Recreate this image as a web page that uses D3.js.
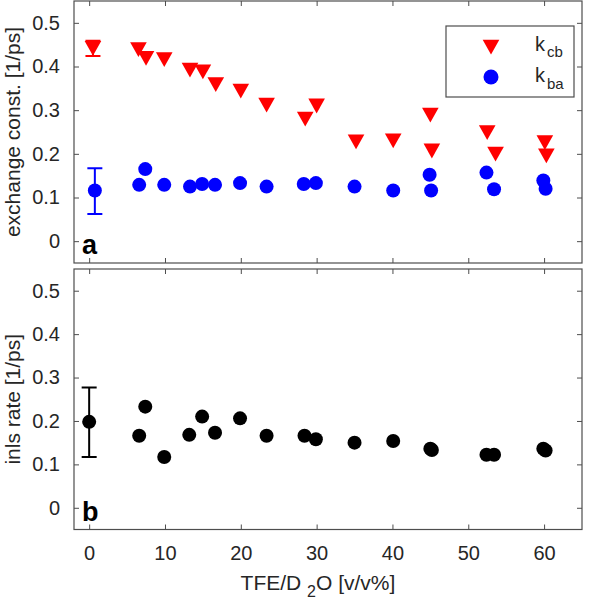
<!DOCTYPE html>
<html><head><meta charset="utf-8">
<script src="https://cdn.jsdelivr.net/npm/d3@7"></script>
<style>
html,body{margin:0;padding:0;background:#fff;}
text{font-family:"Liberation Sans",Arial,sans-serif;}
</style></head>
<body><svg id="chart" width="600" height="602"></svg>
<script>
// ---- data ----
const xTicks = [0,10,20,30,40,50,60];
const yTicks = [0,0.1,0.2,0.3,0.4,0.5];

const kcbX = [0.5,6.5,7.5,9.9,13.3,15,16.7,20,23.4,28.5,30,35.2,40.1,45,45.2,52.5,53.6,60.1,60.3];
const kcbY = [0.442,0.439,0.419,0.416,0.392,0.388,0.359,0.344,0.312,0.280,0.310,0.228,0.230,0.289,0.207,0.249,0.200,0.226,0.196];
const kcbErr = [0.424,0.459]; // error bar on the first point

const kbaX = [0.75,6.6,7.4,9.9,13.3,14.9,16.6,19.9,23.4,28.3,29.9,35,40.1,44.9,45.1,52.4,53.4,59.9,60.2];
const kbaY = [0.116,0.129,0.165,0.129,0.125,0.131,0.129,0.133,0.125,0.131,0.133,0.125,0.116,0.152,0.116,0.157,0.119,0.139,0.120];
const kbaErr = [0.062,0.167];

const inlsX = [0,6.6,7.4,9.9,13.2,14.9,16.6,19.9,23.4,28.4,29.9,35,40.1,45,45.2,52.4,53.4,59.9,60.2];
const inlsY = [0.198,0.166,0.233,0.117,0.168,0.210,0.173,0.206,0.166,0.166,0.158,0.150,0.154,0.136,0.133,0.122,0.122,0.136,0.132];
const inlsErr = [0.117,0.277];

// ---- layout ----
const svg = d3.select("#chart");
const axisColor = "#4d4d4d", textColor = "#262626";
const x = d3.scaleLinear().domain([-2,65]).range([74,582]);
const panels = [
  {y: d3.scaleLinear().domain([-0.05,0.55]).range([263,1]), label:"exchange const. [1/ps]", tag:"a"},
  {y: d3.scaleLinear().domain([-0.05,0.55]).range([529.5,269]), label:"inls rate [1/ps]", tag:"b"}
];

const triPath = "M-8.3,-7.2L8.3,-7.2L0,7.6Z";
const R = 7;

panels.forEach((p,i) => {
  const g = svg.append("g");
  const [y0,y1] = p.y.range();
  const [x0,x1] = x.range();
  const left = g.append("g").attr("transform",`translate(${x0},0)`)
    .call(d3.axisLeft(p.y).tickValues(yTicks).tickSize(-5).tickPadding(14).tickFormat(d=>d===0?"0":d3.format(".1f")(d)));
  const right = g.append("g").attr("transform",`translate(${x1},0)`)
    .call(d3.axisRight(p.y).tickValues(yTicks).tickSize(-5).tickFormat(""));
  const top = g.append("g").attr("transform",`translate(0,${y1})`)
    .call(d3.axisTop(x).tickValues(xTicks).tickSize(-5).tickFormat(""));
  const bottom = g.append("g").attr("transform",`translate(0,${y0})`)
    .call(d3.axisBottom(x).tickValues(xTicks).tickSize(-5).tickPadding(i===1?16:0).tickFormat(i===1?d3.format("d"):""));
  [left,right,top,bottom].forEach(a=>{
    a.select(".domain").remove();
    a.selectAll(".tick line").attr("stroke",axisColor);
    a.selectAll("text").attr("fill",textColor).style("font-size","20px").style("font-family","'Liberation Sans',Arial,sans-serif");
  });
  g.append("rect").attr("x",x0).attr("y",y1).attr("width",x1-x0).attr("height",y0-y1)
    .attr("fill","none").attr("stroke",axisColor).attr("stroke-width",1.2);
  g.append("text").attr("transform",`translate(20,${(y0+y1)/2}) rotate(-90)`)
    .attr("text-anchor","middle").attr("fill",textColor).style("font-size","21px").text(p.label);
  g.append("text").attr("x",82).attr("y",y0-9).attr("fill","#000")
    .style("font-size","27px").style("font-weight","bold").text(p.tag);
  p.g = g;
});

function errBar(g, yS, xv, lo, hi, color){
  const cx = x(xv), w = 7.5;
  g.append("path").attr("fill","none").attr("stroke",color).attr("stroke-width",2)
    .attr("d",`M${cx},${yS(lo)}V${yS(hi)}M${cx-w},${yS(lo)}H${cx+w}M${cx-w},${yS(hi)}H${cx+w}`);
}

// panel a
const ga = panels[0].g, ya = panels[0].y;
errBar(ga, ya, kcbX[0], kcbErr[0], kcbErr[1], "#ff0000");
errBar(ga, ya, kbaX[0], kbaErr[0], kbaErr[1], "#0000ff");
ga.selectAll(".kcb").data(kcbX).join("path").attr("class","kcb")
  .attr("d",triPath).attr("fill","#ff0000")
  .attr("transform",(d,i)=>`translate(${x(d)},${ya(kcbY[i])})`);
ga.selectAll(".kba").data(kbaX).join("circle").attr("class","kba")
  .attr("cx",d=>x(d)).attr("cy",(d,i)=>ya(kbaY[i])).attr("r",R).attr("fill","#0000ff");

// legend
const lg = ga.append("g");
lg.append("rect").attr("x",446).attr("y",26).attr("width",128).attr("height",71)
  .attr("fill","#fff").attr("stroke",axisColor).attr("stroke-width",1.2);
lg.append("path").attr("d",triPath).attr("fill","#ff0000").attr("transform","translate(491,47)");
lg.append("circle").attr("cx",491).attr("cy",77).attr("r",R+0.5).attr("fill","#0000ff");
const l1 = lg.append("text").attr("x",535).attr("y",51).attr("fill",textColor).style("font-size","20px");
l1.append("tspan").text("k");
l1.append("tspan").attr("dx",2).attr("dy",6).style("font-size","15px").text("cb");
const l2 = lg.append("text").attr("x",535).attr("y",82).attr("fill",textColor).style("font-size","20px");
l2.append("tspan").text("k");
l2.append("tspan").attr("dx",2).attr("dy",7).style("font-size","15px").text("ba");

// panel b
const gb = panels[1].g, yb = panels[1].y;
errBar(gb, yb, inlsX[0], inlsErr[0], inlsErr[1], "#000000");
gb.selectAll(".inls").data(inlsX).join("circle").attr("class","inls")
  .attr("cx",d=>x(d)).attr("cy",(d,i)=>yb(inlsY[i])).attr("r",R).attr("fill","#000");

// x label
const xl = svg.append("text").attr("x",318).attr("y",590).attr("text-anchor","middle")
  .attr("fill",textColor).style("font-size","21px");
xl.append("tspan").text("TFE/D ");
xl.append("tspan").attr("dy",7).style("font-size","16px").text("2");
xl.append("tspan").attr("dy",-7).text("O [v/v%]");
</script></body></html>
